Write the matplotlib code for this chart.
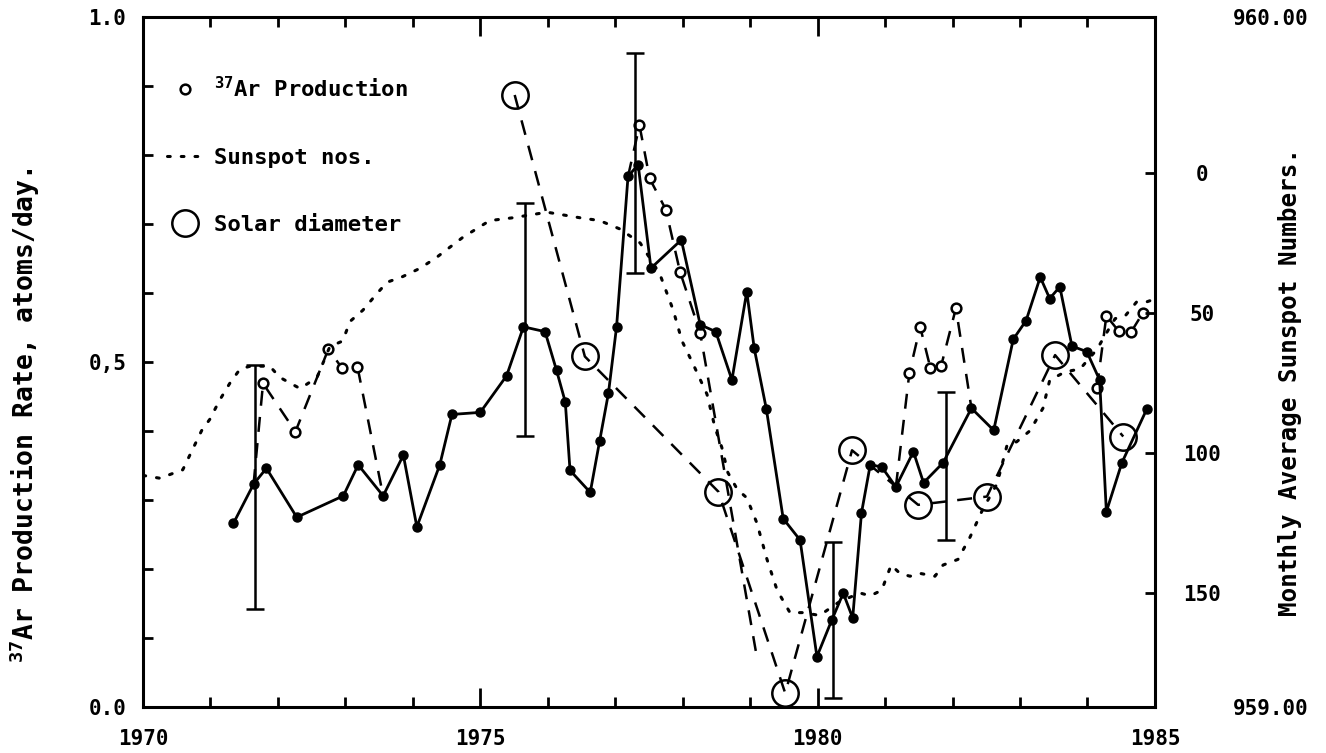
import numpy as np
import matplotlib
matplotlib.use("Agg")
import matplotlib.pyplot as plt
from matplotlib.lines import Line2D
from matplotlib.ticker import MultipleLocator, FixedLocator, FormatStrFormatter, FixedFormatter

plt.rcParams['font.family'] = ['DejaVu Sans Mono', 'DejaVu Sans']
plt.rcParams['font.weight'] = 'bold'
plt.rcParams['mathtext.fontset'] = 'custom'
plt.rcParams['mathtext.rm'] = 'DejaVu Sans Mono:bold'
plt.rcParams['mathtext.it'] = 'DejaVu Sans Mono:bold'

# 37Ar production rate, individual runs (filled dots, solid line)
ar_year = [1971.34, 1971.64, 1971.83, 1972.28, 1972.97, 1973.19, 1973.56, 1973.86, 1974.06, 1974.40,
           1974.58, 1975.00, 1975.39, 1975.64, 1975.96, 1976.13, 1976.26, 1976.33, 1976.63, 1976.77,
           1976.90, 1977.02, 1977.19, 1977.34, 1977.53, 1977.98, 1978.26, 1978.49, 1978.73, 1978.95,
           1979.06, 1979.24, 1979.49, 1979.74, 1979.99, 1980.21, 1980.38, 1980.52, 1980.65, 1980.78,
           1980.95, 1981.16, 1981.42, 1981.57, 1981.86, 1982.28, 1982.61, 1982.90, 1983.09, 1983.30,
           1983.44, 1983.59, 1983.77, 1983.99, 1984.18, 1984.28, 1984.51, 1984.88]
ar_rate = [0.266, 0.323, 0.346, 0.275, 0.306, 0.351, 0.306, 0.365, 0.261, 0.351,
           0.424, 0.427, 0.480, 0.551, 0.544, 0.488, 0.442, 0.343, 0.311, 0.386,
           0.455, 0.551, 0.769, 0.786, 0.636, 0.677, 0.554, 0.544, 0.474, 0.602,
           0.520, 0.432, 0.273, 0.242, 0.073, 0.126, 0.165, 0.129, 0.281, 0.351,
           0.348, 0.319, 0.370, 0.325, 0.354, 0.433, 0.401, 0.533, 0.560, 0.623,
           0.592, 0.609, 0.523, 0.515, 0.474, 0.283, 0.354, 0.432]

# error bars (year, centre, lower end, upper end)
err_year = [1971.66, 1975.66, 1977.30, 1980.23, 1981.91]
err_mid = [0.323, 0.551, 0.788, 0.126, 0.354]
err_low = [0.142, 0.393, 0.629, 0.013, 0.242]
err_high = [0.496, 0.730, 0.948, 0.239, 0.457]

# 37Ar production, small open circles (dashed); nan separates the segments
alt_year = [1971.64, 1971.78, 1972.26, 1972.75, 1972.95, 1973.18, 1973.56, np.nan,
            1977.19, 1977.36, 1977.51, 1977.75, 1977.96, 1978.26, 1979.10, np.nan,
            1981.16, 1981.36, 1981.52, 1981.67, 1981.83, 1982.05, 1982.28, np.nan,
            1984.14, 1984.28, 1984.46, 1984.65, 1984.82]
alt_rate = [0.323, 0.469, 0.399, 0.519, 0.491, 0.493, 0.306, np.nan,
            0.769, 0.843, 0.766, 0.721, 0.631, 0.542, 0.072, np.nan,
            0.319, 0.484, 0.551, 0.492, 0.494, 0.578, 0.433, np.nan,
            0.462, 0.567, 0.545, 0.544, 0.571]
alt_circle = [False, True, True, True, True, True, False, False,
              False, True, True, True, True, True, False, False,
              False, True, True, True, True, True, False, False,
              True, True, True, True, True]

# monthly average sunspot numbers (dotted)
spot_year = [1970.00, 1970.25, 1970.59, 1970.73, 1970.87, 1970.99, 1971.14, 1971.29, 1971.44, 1971.59,
             1971.88, 1972.03, 1972.33, 1972.58, 1972.77, 1972.96, 1973.07, 1973.26, 1973.47, 1973.62,
             1973.85, 1974.11, 1974.36, 1974.74, 1975.14, 1975.48, 1975.99, 1976.48, 1976.77, 1977.07,
             1977.37, 1977.66, 1977.86, 1977.99, 1978.15, 1978.36, 1978.48, 1978.58, 1978.67, 1978.81,
             1978.95, 1979.10, 1979.25, 1979.40, 1979.59, 1979.78, 1980.03, 1980.33, 1980.63, 1980.78,
             1980.95, 1981.09, 1981.22, 1981.37, 1981.52, 1981.74, 1981.86, 1982.08, 1982.26, 1982.45,
             1982.66, 1982.81, 1982.95, 1983.15, 1983.34, 1983.44, 1983.67, 1983.89, 1984.14, 1984.26,
             1984.41, 1984.56, 1984.73, 1984.88, 1985.00]
spot_num = [108, 109, 106, 99, 92, 88, 81, 75, 70, 69,
            69, 73, 77, 73, 62, 60, 53, 49, 43, 39,
            37, 34, 30, 23, 17, 16, 14, 16, 17, 20,
            25, 36, 49, 60, 68, 79, 91, 98, 107, 113,
            116, 125, 138, 149, 157, 157, 158, 153, 150, 151,
            149, 140, 143, 144, 143, 144, 140, 138, 130, 120,
            111, 97, 96, 92, 84, 74, 71, 70, 63, 58,
            52, 51, 46, 46, 45]

# solar diameter (large open circles, dashed)
solar_year = [1975.51, 1976.55, 1978.53, 1979.52, 1980.51, 1981.49, 1982.51, 1983.52, 1984.53]
solar_diam = [959.887, 959.508, 959.312, 959.020, 959.372, 959.293, 959.305, 959.510, 959.392]

fig = plt.figure(figsize=(13.26, 7.53), dpi=100)
ax = fig.add_axes([0.1078, 0.0611, 0.7632, 0.9163])

dash = (0, (6, 4.5))
dots = (0, (0.9, 3.6))

# open-circle series
ax.plot(alt_year, alt_rate, color='black', lw=1.8, ls=dash, marker='o', ms=7,
        mfc='white', mec='black', mew=1.8, markevery=alt_circle, zorder=3)
# main series
ax.plot(ar_year, ar_rate, color='black', lw=2.0, marker='o', ms=6.5, mfc='black',
        mec='black', zorder=4)
yerr = [np.array(err_mid) - np.array(err_low), np.array(err_high) - np.array(err_mid)]
ax.errorbar(err_year, err_mid, yerr=yerr, fmt='none', ecolor='black', elinewidth=1.8,
            capsize=6.5, capthick=1.8, zorder=4)

ax.set_xlim(1970, 1985)
ax.set_ylim(0, 1.0)
ax.xaxis.set_major_locator(FixedLocator([1970, 1975, 1980, 1985]))
ax.xaxis.set_minor_locator(MultipleLocator(1))
ax.yaxis.set_major_locator(FixedLocator([0.0, 0.5, 1.0]))
ax.yaxis.set_major_formatter(FixedFormatter(['0.0', '0,5', '1.0']))
ax.yaxis.set_minor_locator(MultipleLocator(0.1))
ax.tick_params(axis='x', which='major', direction='in', top=True, length=14, width=2,
               labelsize=15, pad=16)
ax.tick_params(axis='x', which='minor', direction='in', top=True, length=7, width=2)
ax.tick_params(axis='y', which='both', direction='in', length=7, width=2, labelsize=15, pad=12)
for s in ax.spines.values():
    s.set_linewidth(2.2)

# sunspot axis (inverted)
ax2 = ax.twinx()
ax2.plot(spot_year, spot_num, color='black', lw=2.2, ls=dots, dash_capstyle='round', zorder=2)
ax2.set_ylim(190.7, -55.7)
ax2.yaxis.set_major_locator(FixedLocator([0, 50, 100, 150]))
ax2.tick_params(axis='y', direction='in', length=7, width=2, labelsize=15, pad=34)
for lab in ax2.get_yticklabels():
    lab.set_horizontalalignment('center')
for s in ax2.spines.values():
    s.set_visible(False)

# solar diameter axis
ax3 = ax.twinx()
ax3.plot(solar_year, solar_diam, color='black', lw=1.8, ls=dash, marker='o', ms=19,
         mfc='none', mec='black', mew=1.8)
ax3.set_ylim(959.0, 960.0)
ax3.yaxis.set_major_locator(FixedLocator([959.0, 960.0]))
ax3.yaxis.set_major_formatter(FormatStrFormatter('%.2f'))
ax3.tick_params(axis='y', length=0, labelsize=15, pad=56)
for s in ax3.spines.values():
    s.set_visible(False)
ax3.set_xlim(1970, 1985)

# legend
handles = [
    Line2D([], [], ls='none', marker='o', ms=7, mfc='white', mec='black', mew=1.8),
    Line2D([], [], color='black', lw=2.2, ls=dots, dash_capstyle='round'),
    Line2D([], [], ls='none', marker='o', ms=19, mfc='none', mec='black', mew=1.8),
]
labels = [r'$^{37}$Ar Production', 'Sunspot nos.', 'Solar diameter']
ax3.legend(handles, labels, loc='upper left', bbox_to_anchor=(0.024, 0.915),
           frameon=False, fontsize=16, handlelength=1.6, handletextpad=0.5,
           labelspacing=2.12, borderpad=0, borderaxespad=0)

fig.text(25 / 1326, 1 - 415 / 753, r'$^{37}$Ar Production Rate, atoms/day.', rotation=90,
         ha='center', va='center', fontsize=19)
fig.text(1290 / 1326, 1 - 382 / 753, 'Monthly Average Sunspot Numbers.', rotation=90,
         ha='center', va='center', fontsize=17.5)

fig.savefig('out.png', dpi=100)
